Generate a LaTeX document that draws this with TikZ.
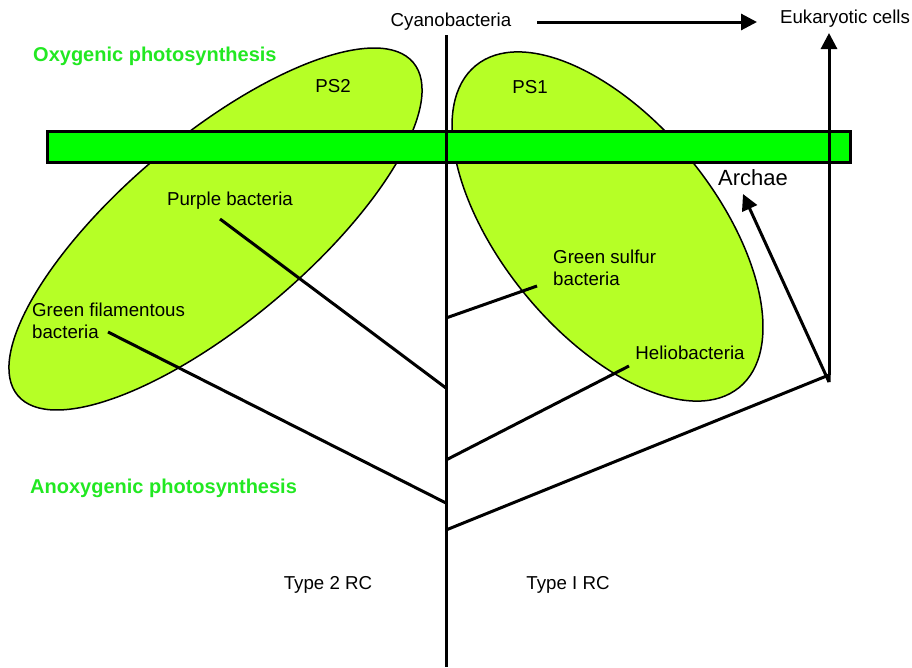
\documentclass[tikz,border=0pt]{standalone}
\usepackage{fontspec}
\setmainfont{Liberation Sans}
\usetikzlibrary{arrows.meta}
\definecolor{lime}{RGB}{182,255,38}
\definecolor{barg}{RGB}{0,255,0}
\definecolor{txtg}{RGB}{34,232,34}
\tikzset{
  lbl/.style={inner sep=0pt, font=\fontsize{18.7}{22.5}\selectfont},
  glbl/.style={inner sep=0pt, anchor=west, text=txtg, font=\fontsize{20}{24}\selectfont\bfseries},
  link/.style={line width=3pt},
  arr/.style={line width=3pt, -{Triangle[length=16pt,width=16pt]}},
  blob/.style={fill=lime, draw=black, line width=1.5pt},
}
\begin{document}
\begin{tikzpicture}[x=1pt,y=-1pt]
\useasboundingbox (0,0) rectangle (912,667);
% ellipses
\draw[blob, rotate around={40.1:(215.5,229)}] (215.5,229) ellipse [x radius=258.5, y radius=92.6];
\draw[blob, rotate around={-50.7:(607.5,226.5)}] (607.5,226.5) ellipse [x radius=208, y radius=106.7];
% green bar
\draw[fill=barg, draw=black, line width=3pt] (47,131) rectangle (850,162);
% labels
\node[lbl] (cyano) at (451,22) {Cyanobacteria};
\node[lbl] (euk) at (845,19) {Eukaryotic cells};
\node[glbl] (oxy) at (33,56) {Oxygenic photosynthesis};
\node[glbl] (anoxy) at (30,488) {Anoxygenic photosynthesis};
\node[lbl] (ps2) at (333,86) {PS2};
\node[lbl] (ps1) at (530,87) {PS1};
\node[lbl] (purple) at (230,201) {Purple bacteria};
\node[lbl, anchor=west, align=left] (gfil) at (32,321) {Green filamentous\\bacteria};
\node[lbl, anchor=west, align=left] (gsul) at (553,268) {Green sulfur\\bacteria};
\node[lbl] (helio) at (690,353) {Heliobacteria};
\node[inner sep=0pt, font=\fontsize{22}{26}\selectfont] (arch) at (753,178) {Archae};
\node[lbl] (t2) at (328,585) {Type 2 RC};
\node[lbl] (t1) at (568,585) {Type I RC};
% coordinates
\coordinate (vtop) at (446,35);
\coordinate (vbot) at (446,667);
\coordinate (jpur) at (446,388);
\coordinate (jfil) at (446,503);
\coordinate (jsul) at (446,318);
\coordinate (jhel) at (446,460);
\coordinate (jlow) at (446,530);
\coordinate (epur) at (220,219);
\coordinate (efil) at (108,332);
\coordinate (esul) at (537,286);
\coordinate (ehel) at (629,366);
\coordinate (node2) at (829,375);
\coordinate (eukarr) at (829,33);
\coordinate (archarr) at (743,194);
\coordinate (cyaS) at (537,22);
\coordinate (cyaE) at (757,22);
% lines
\draw[link] (vtop) -- (vbot);
\draw[link] (epur) -- (jpur);
\draw[link] (efil) -- (jfil);
\draw[link] (jsul) -- (esul);
\draw[link] (jhel) -- (ehel);
\draw[link, line join=miter] (jlow) -- (node2) -- ([yshift=-7pt]node2);
\draw[arr] (node2) -- (eukarr);
\draw[arr] ([yshift=-7pt]node2) -- (archarr);
\draw[arr] (cyaS) -- (cyaE);
\end{tikzpicture}
\end{document}
